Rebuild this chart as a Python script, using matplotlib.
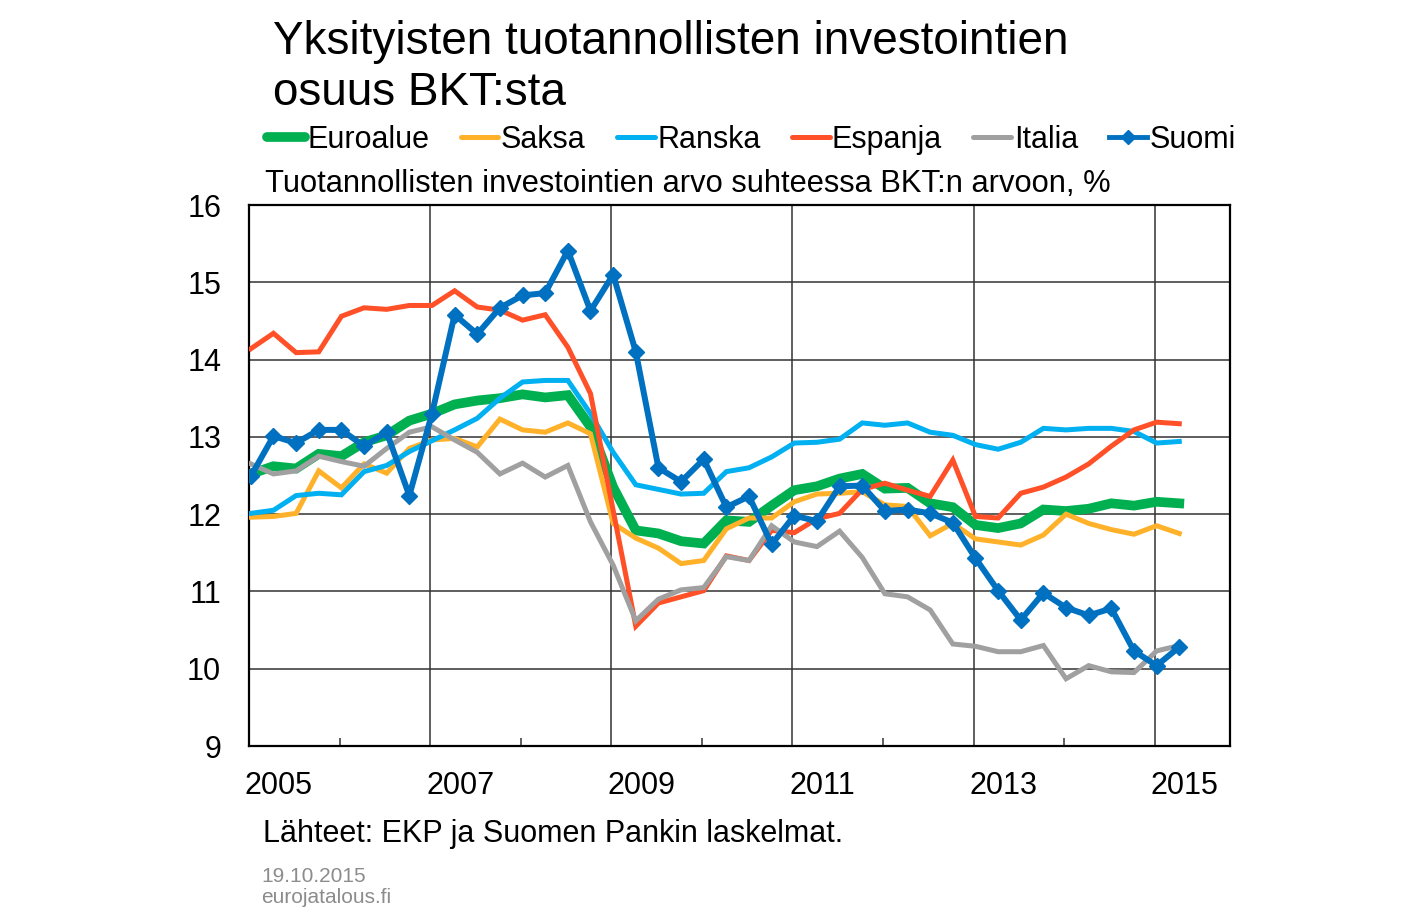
import matplotlib.pyplot as plt
from matplotlib.lines import Line2D
from matplotlib.transforms import ScaledTranslation

plt.rcParams['font.family'] = ['Liberation Sans', 'DejaVu Sans']

# quarterly observations 2005Q1 .. 2015Q2
n_quarters = 42
quarters = [2005.02 + 0.25 * i for i in range(n_quarters)]

euroalue = [12.52, 12.62, 12.59, 12.78, 12.75, 12.93, 13.02, 13.21, 13.30, 13.42,
            13.47, 13.50, 13.55, 13.51, 13.54, 13.13, 12.35, 11.79, 11.75, 11.65,
            11.62, 11.92, 11.90, 12.11, 12.31, 12.36, 12.46, 12.52, 12.33, 12.34,
            12.14, 12.09, 11.86, 11.82, 11.88, 12.06, 12.04, 12.07, 12.14, 12.11,
            12.16, 12.14]
saksa = [11.96, 11.97, 12.01, 12.56, 12.34, 12.65, 12.53, 12.85, 12.96, 12.98,
         12.87, 13.23, 13.09, 13.06, 13.18, 13.04, 11.88, 11.69, 11.56, 11.36,
         11.40, 11.81, 11.95, 11.95, 12.16, 12.26, 12.27, 12.29, 12.12, 12.10,
         11.72, 11.88, 11.68, 11.64, 11.60, 11.73, 12.00, 11.88, 11.80, 11.74,
         11.85, 11.75]
ranska = [12.01, 12.05, 12.24, 12.27, 12.25, 12.55, 12.63, 12.81, 12.95, 13.09,
          13.24, 13.50, 13.71, 13.73, 13.73, 13.30, 12.80, 12.38, 12.32, 12.26,
          12.27, 12.55, 12.60, 12.74, 12.92, 12.93, 12.97, 13.18, 13.15, 13.18,
          13.06, 13.02, 12.90, 12.84, 12.93, 13.11, 13.09, 13.11, 13.11, 13.07,
          12.92, 12.94]
espanja = [14.14, 14.34, 14.09, 14.10, 14.56, 14.67, 14.65, 14.70, 14.70, 14.89,
           14.68, 14.64, 14.51, 14.58, 14.16, 13.56, 12.05, 10.55, 10.85, 10.93,
           11.01, 11.46, 11.40, 11.79, 11.76, 11.94, 12.01, 12.32, 12.40, 12.31,
           12.23, 12.70, 11.97, 11.95, 12.27, 12.35, 12.48, 12.65, 12.88, 13.09,
           13.19, 13.17]
italia = [12.65, 12.52, 12.56, 12.75, 12.68, 12.62, 12.85, 13.06, 13.13, 12.96,
          12.80, 12.52, 12.66, 12.48, 12.63, 11.90, 11.34, 10.62, 10.90, 11.02,
          11.05, 11.45, 11.40, 11.85, 11.64, 11.58, 11.78, 11.44, 10.97, 10.93,
          10.76, 10.32, 10.29, 10.22, 10.22, 10.30, 9.87, 10.04, 9.96, 9.95,
          10.23, 10.30]
suomi = [12.49, 13.01, 12.92, 13.09, 13.09, 12.88, 13.06, 12.24, 13.30, 14.58,
         14.33, 14.67, 14.83, 14.86, 15.41, 14.63, 15.10, 14.10, 12.60, 12.42,
         12.71, 12.09, 12.23, 11.61, 11.98, 11.91, 12.36, 12.37, 12.04, 12.06,
         12.01, 11.89, 11.43, 11.01, 10.63, 10.98, 10.79, 10.69, 10.78, 10.23,
         10.04, 10.28]

series_names = ['Euroalue', 'Saksa', 'Ranska', 'Espanja', 'Italia', 'Suomi']
label_years = [2005, 2007, 2009, 2011, 2013, 2015]
minor_years = [2006, 2008, 2010, 2012, 2014]
y_ticks = [9, 10, 11, 12, 13, 14, 15, 16]

colors = ['#00B050', '#FFB12A', '#00B0F0', '#FF5028', '#A0A0A0', '#0070C0']
widths = [7.0, 3.6, 3.6, 3.6, 3.6, 4.3]

W, H = 1407, 919
fig = plt.figure(figsize=(W / 100, H / 100), dpi=100)
ax = fig.add_axes([249 / W, 1 - 746 / H, (1230 - 249) / W, (746 - 205) / H])

all_series = [euroalue, saksa, ranska, espanja, italia, suomi]
for name, vals, c, lw in zip(series_names, all_series, colors, widths):
    if name == 'Suomi':
        ax.plot(quarters, vals, color=c, lw=lw, marker='D', markersize=8,
                solid_joinstyle='miter', zorder=5)
    else:
        ax.plot(quarters, vals, color=c, lw=lw, solid_joinstyle='miter', zorder=3)

ax.set_xlim(2005.0, 2015.83)
ax.set_ylim(9, 16)
ax.set_yticks(y_ticks)
ax.set_xticks(label_years)
ax.set_xticklabels([str(y) for y in label_years])
ax.set_xticks(minor_years, minor=True)
ax.grid(True, which='major', color='#333333', lw=1.1, zorder=1)
ax.tick_params(axis='both', which='major', length=0, labelsize=22)
ax.tick_params(axis='x', which='major', pad=18)
ax.tick_params(axis='y', which='major', pad=20)
ax.tick_params(axis='x', which='minor', direction='in', length=6, width=1.1, color='#333333')
for sp in ax.spines.values():
    sp.set_linewidth(1.6)
    sp.set_color('black')

# year labels sit to the right of the year line
shift = ScaledTranslation(30 / 100, 0, fig.dpi_scale_trans)
for lab in ax.get_xticklabels():
    lab.set_transform(lab.get_transform() + shift)

# title
fig.text(273 / W, 1 - 54 / H, 'Yksityisten tuotannollisten investointien',
         fontsize=33, va='baseline', ha='left')
fig.text(273 / W, 1 - 105 / H, 'osuus BKT:sta', fontsize=33, va='baseline', ha='left')

# legend
handles = []
for name, c, lw in zip(series_names, colors, widths):
    if name == 'Suomi':
        handles.append(Line2D([], [], color=c, lw=3.5, marker='D', markersize=7))
    elif name == 'Euroalue':
        handles.append(Line2D([], [], color=c, lw=7, solid_capstyle='round'))
    else:
        handles.append(Line2D([], [], color=c, lw=3.6, solid_capstyle='round'))
fig.legend(handles, series_names, loc='center left', bbox_to_anchor=(267 / W, 1 - 140 / H),
           ncol=6, frameon=False, fontsize=22, handlelength=1.24, handletextpad=0.08,
           columnspacing=1.02, borderaxespad=0, borderpad=0)

fig.text(265 / W, 1 - 192 / H, 'Tuotannollisten investointien arvo suhteessa BKT:n arvoon, %',
         fontsize=22.2, va='baseline', ha='left')

fig.text(263 / W, 1 - 842 / H, 'Lähteet: EKP ja Suomen Pankin laskelmat.',
         fontsize=22, va='baseline', ha='left')
fig.text(261 / W, 1 - 882 / H, '19.10.2015', fontsize=15, color='#8C8C8C',
         va='baseline', ha='left')
fig.text(261 / W, 1 - 903 / H, 'eurojatalous.fi', fontsize=15, color='#8C8C8C',
         va='baseline', ha='left')

fig.savefig('out.png', dpi=100)
